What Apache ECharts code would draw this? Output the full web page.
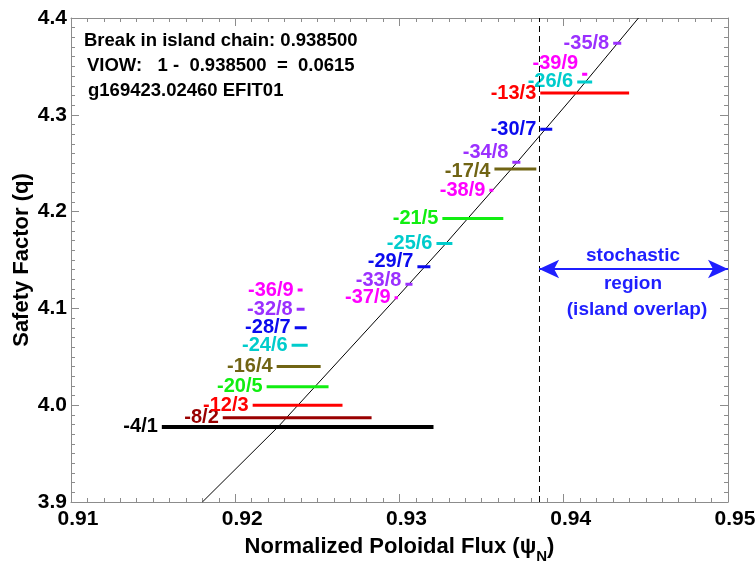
<!DOCTYPE html>
<html>
<head>
<meta charset="utf-8">
<title>Island chain widths</title>
<script src="https://cdn.jsdelivr.net/npm/echarts@6/dist/echarts.min.js"></script>
<style>
  html, body { margin: 0; padding: 0; background: #fff; }
  #chart { width: 756px; height: 561px; }
</style>
</head>
<body>
<div id="chart"></div>
<script>
// rational surfaces: label, q level drawn, island start / end in psi_N
const modeNames = ['-4/1', '-8/2', '-12/3', '-20/5', '-16/4', '-24/6', '-28/7', '-32/8', '-36/9',
  '-37/9', '-33/8', '-29/7', '-25/6', '-21/5', '-38/9', '-17/4', '-34/8', '-30/7', '-13/3', '-26/6', '-39/9', '-35/8'];
const modeQ = [3.9775, 3.987, 4.0, 4.019, 4.040, 4.062, 4.080, 4.099, 4.119,
  4.111, 4.125, 4.143, 4.167, 4.193, 4.222, 4.244, 4.251, 4.285, 4.3225, 4.334, 4.342, 4.374];
const modeStart = [0.91553, 0.91924, 0.92106, 0.92191, 0.92252, 0.92343, 0.92362, 0.92374, 0.92380,
  0.92970, 0.93036, 0.93109, 0.93225, 0.93261, 0.93547, 0.93578, 0.93687, 0.93857, 0.93857, 0.94082, 0.94112, 0.94301];
const modeEnd = [0.93207, 0.92830, 0.92653, 0.92568, 0.92520, 0.92441, 0.92435, 0.92422, 0.92410,
  0.92990, 0.93079, 0.93188, 0.93322, 0.93632, 0.93571, 0.93833, 0.93736, 0.93930, 0.94398, 0.94173, 0.94143, 0.94350];

// q profile (thin black line)
const profilePsi = [0.91800, 0.92260, 0.92982, 0.93274, 0.93413, 0.93681, 0.94076, 0.94455];
const profileQ = [3.9, 3.9775, 4.111, 4.1655, 4.1924, 4.244, 4.3225, 4.4];

const breakPsi = 0.9385;
const qRange = [3.9, 4.4];
const stochasticPsi = [0.9385, 0.95];
const stochasticQ = 4.1407;

// colour by poloidal mode number m
const mColors = {
  1: '#000000', 2: '#990000', 3: '#ff0000', 4: '#706414', 5: '#11ee11',
  6: '#00cccc', 7: '#0a0aee', 8: '#9b30ff', 9: '#ff00ff'
};
// vertical nudges (px) for labels that sit off their bar
const labelNudge = { '-39/9': -11, '-34/8': -10, '-33/8': -4, '-29/7': -5, '-17/4': 2 };

const font = '"Liberation Sans", Arial, sans-serif';
const axisGray = '#8c8c8c';

const chart = echarts.init(document.getElementById('chart'));

const modeSeries = modeNames.map((name, i) => {
  const color = mColors[name.split('/')[1]];
  return {
    name: name,
    type: 'line',
    symbol: 'circle',
    symbolSize: 0,
    lineStyle: { color: color, width: name === '-4/1' ? 4 : 3 },
    itemStyle: { color: color },
    label: { show: false },
    emphasis: { disabled: true },
    data: [
      {
        value: [modeStart[i], modeQ[i]],
        label: {
          show: true,
          position: 'left',
          distance: 4,
          offset: [0, labelNudge[name] || 0],
          formatter: name,
          color: color,
          fontFamily: font,
          fontWeight: 'bold',
          fontSize: 20
        }
      },
      [modeEnd[i], modeQ[i]]
    ]
  };
});

const baseAxis = {
  axisLine: { show: true, lineStyle: { color: axisGray, width: 1 } },
  axisTick: { show: true, inside: true, length: 8, lineStyle: { color: axisGray } },
  minorTick: { show: true, splitNumber: 10, length: 4, lineStyle: { color: axisGray } },
  splitLine: { show: false }
};

const option = {
  animation: false,
  grid: { left: 71, right: 28, top: 18, bottom: 59, outerBoundsMode: 'none', containLabel: false },
  xAxis: [
    Object.assign({}, baseAxis, {
      type: 'value', min: 0.91, max: 0.95, interval: 0.01,
      name: '{t|Normalized Poloidal Flux (\u03c8}{s|N}{t|)}',
      nameLocation: 'middle', nameGap: 34, nameMoveOverlap: false,
      nameTextStyle: {
        rich: {
          t: { fontFamily: font, fontWeight: 'bold', fontSize: 22, color: '#000' },
          s: { fontFamily: font, fontWeight: 'bold', fontSize: 15, color: '#000', verticalAlign: 'bottom', padding: [0, 0, -6, 0] }
        }
      },
      axisLabel: {
        formatter: v => v.toFixed(2), margin: 7, padding: [0, 0, 0, 14],
        fontFamily: font, fontWeight: 'bold', fontSize: 21, color: '#000'
      }
    }),
    Object.assign({}, baseAxis, {
      type: 'value', min: 0.91, max: 0.95, interval: 0.01, position: 'top',
      axisLabel: { show: false }
    })
  ],
  yAxis: [
    Object.assign({}, baseAxis, {
      type: 'value', min: 3.9, max: 4.4, interval: 0.1,
      name: 'Safety Factor (q)', nameLocation: 'middle', nameGap: 38, nameMoveOverlap: false,
      nameTextStyle: { fontFamily: font, fontWeight: 'bold', fontSize: 22, color: '#000' },
      axisLabel: {
        formatter: v => v.toFixed(1), margin: 4,
        fontFamily: font, fontWeight: 'bold', fontSize: 21, color: '#000'
      }
    }),
    Object.assign({}, baseAxis, {
      type: 'value', min: 3.9, max: 4.4, interval: 0.1, position: 'right',
      axisLabel: { show: false }
    })
  ],
  graphic: [
    { type: 'text', left: 84, top: 31, style: { text: 'Break in island chain: 0.938500', font: 'bold 18.5px ' + font, fill: '#000' } },
    { type: 'text', left: 87, top: 56, style: { text: 'VIOW:   1 -  0.938500  =  0.0615', font: 'bold 18.5px ' + font, fill: '#000' } },
    { type: 'text', left: 88, top: 81, style: { text: 'g169423.02460 EFIT01', font: 'bold 18.5px ' + font, fill: '#000' } },
    { type: 'text', x: 633, y: 256, style: { text: 'stochastic', font: 'bold 19px ' + font, fill: '#1f1fff', align: 'center', verticalAlign: 'middle' } },
    { type: 'text', x: 633, y: 284, style: { text: 'region', font: 'bold 19px ' + font, fill: '#1f1fff', align: 'center', verticalAlign: 'middle' } },
    { type: 'text', x: 637, y: 310, style: { text: '(island overlap)', font: 'bold 19px ' + font, fill: '#1f1fff', align: 'center', verticalAlign: 'middle' } }
  ],
  series: [
    {
      name: 'q profile',
      type: 'line',
      symbol: 'none',
      lineStyle: { color: '#000', width: 1 },
      emphasis: { disabled: true },
      data: profilePsi.map((p, i) => [p, profileQ[i]]),
      markLine: {
        silent: true,
        symbol: 'none',
        label: { show: false },
        lineStyle: { color: '#000', width: 1, type: [6, 4] },
        data: [[{ coord: [breakPsi, qRange[0]] }, { coord: [breakPsi, qRange[1]] }]]
      }
    },
    {
      name: 'stochastic',
      type: 'line',
      symbol: 'none',
      data: [],
      markLine: {
        silent: true,
        symbol: ['arrow', 'arrow'],
        symbolSize: [14, 20],
        label: { show: false },
        lineStyle: { color: '#1f1fff', width: 2, type: 'solid' },
        data: [[{ coord: [stochasticPsi[0], stochasticQ] }, { coord: [stochasticPsi[1], stochasticQ] }]]
      }
    }
  ].concat(modeSeries)
};

chart.setOption(option);
</script>
</body>
</html>
